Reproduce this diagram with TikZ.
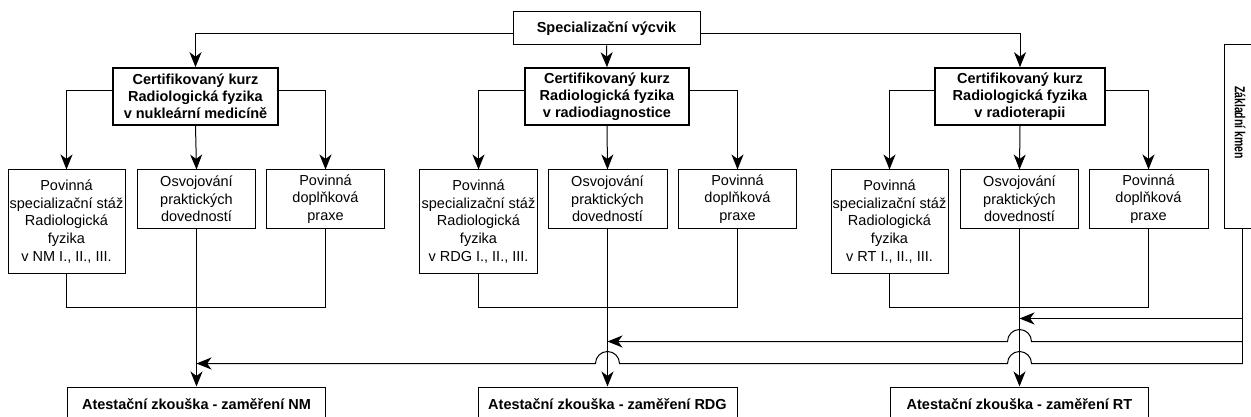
\documentclass[tikz,border=0pt]{standalone}
\usepackage{fontspec}
\setmainfont{Liberation Sans}
\usetikzlibrary{arrows.meta}
\tikzset{
  box/.style={draw, line width=1pt, inner sep=0pt, align=center, font=\fontsize{14.5}{17.6}\selectfont},
  bbox/.style={box, font=\fontsize{14.5}{16.8}\selectfont\bfseries},
  cbox/.style={bbox, line width=1.6pt},
  conn/.style={line width=1pt},
  arr/.style={conn, -{Stealth[length=15pt, width=12pt, inset=4.5pt]}},
}
\begin{document}
\begin{tikzpicture}[x=1pt, y=-1pt]
\clip (0,0) rectangle (1251,417);
\fill[white] (0,0) rectangle (1251,417);
% top
\node[bbox, minimum width=187pt, minimum height=33pt] (top) at (606.5,28.5) {Specializační výcvik};
% certified courses
\node[cbox, minimum width=165pt, minimum height=57pt] (k1) at (195.5,96.5) {Certifikovaný kurz\\Radiologická fyzika\\v nukleární medicíně};
\node[cbox, minimum width=164pt, minimum height=57pt] (k2) at (607,96.5) {Certifikovaný kurz\\Radiologická fyzika\\v radiodiagnostice};
\node[cbox, minimum width=170pt, minimum height=57pt] (k3) at (1020,96.5) {Certifikovaný kurz\\Radiologická fyzika\\v radioterapii};
% group 1
\node[box, minimum width=117pt, minimum height=103pt] (a1) at (66.5,221.5) {Povinná\\specializační stáž\\Radiologická\\fyzika\\v NM I., II., III.};
\node[box, minimum width=118pt, minimum height=58pt] (b1) at (196.5,199) {Osvojování\\praktických\\dovedností};
\node[box, minimum width=118pt, minimum height=58pt] (c1) at (325.5,199) {Povinná\\doplňková\\praxe};
% group 2
\node[box, minimum width=118pt, minimum height=103pt] (a2) at (478.5,221.5) {Povinná\\specializační stáž\\Radiologická\\fyzika\\v RDG I., II., III.};
\node[box, minimum width=119pt, minimum height=58pt] (b2) at (607.5,199) {Osvojování\\praktických\\dovedností};
\node[box, minimum width=118pt, minimum height=58pt] (c2) at (737.5,199) {Povinná\\doplňková\\praxe};
% group 3
\node[box, minimum width=117pt, minimum height=103pt] (a3) at (889.5,221.5) {Povinná\\specializační stáž\\Radiologická\\fyzika\\v RT I., II., III.};
\node[box, minimum width=118pt, minimum height=58pt] (b3) at (1019.5,199) {Osvojování\\praktických\\dovedností};
\node[box, minimum width=119pt, minimum height=58pt] (c3) at (1148.5,199) {Povinná\\doplňková\\praxe};
% exams
\node[bbox, minimum width=258pt, minimum height=34pt] (e1) at (196.5,404) {Atestační zkouška - zaměření NM};
\node[bbox, minimum width=259pt, minimum height=34pt] (e2) at (607.5,404) {Atestační zkouška - zaměření RDG};
\node[bbox, minimum width=258pt, minimum height=34pt] (e3) at (1019.5,404) {Atestační zkouška - zaměření RT};
% zakladni kmen
\node[box, minimum width=36pt, minimum height=183pt] (zk) at (1242.5,136.5) {};
\node[font=\fontsize{14.5}{16.8}\selectfont\bfseries, rotate=-90, inner sep=0pt] (zkt) at (1240,122.5) {\scalebox{0.72}[1]{Základní kmen}};
% connectors from top
\draw[arr] ([yshift=-5.5pt]top.west) -| (k1.north);
\draw[arr] (top.south) -- (k2.north);
\draw[arr] ([yshift=-5.5pt]top.east) -| (k3.north);
% course -> children
\foreach \k/\a/\b/\c in {k1/a1/b1/c1, k2/a2/b2/c2, k3/a3/b3/c3}{
  \draw[arr] ([yshift=5.5pt]\k.west) -| (\a.north);
  \draw[arr] (\k.south) -- (\b.north);
  \draw[arr] ([yshift=5.5pt]\k.east) -| (\c.north);
}
% joins
\coordinate (j1) at (196.5,307.5);
\coordinate (j2) at (607.5,307.5);
\coordinate (j3) at (1019.5,307.5);
\draw[conn] (a1.south) |- (j1) -| (c1.south);
\draw[conn] (a2.south) |- (j2) -| (c2.south);
\draw[conn] (a3.south) |- (j3) -| (c3.south);
\draw[arr] (b1.south) -- (e1.north);
\draw[arr] (b2.south) -- (e2.north);
\draw[arr] (b3.south) -- (e3.north);
% feeds from Zakladni kmen
\coordinate (f1) at (1242.5,318.5);
\coordinate (f2) at (1242.5,341.5);
\coordinate (f3) at (1242.5,363.5);
\draw[conn] (zk.south) -- (f3);
\draw[arr] (f1) -- (b3.south |- f1);
\draw[arr] (f2) -- ([xshift=12pt]b3.south |- f2) arc[start angle=0, end angle=180, radius=12pt] -- (b2.south |- f2);
\draw[arr] (f3) -- ([xshift=12pt]b3.south |- f3) arc[start angle=0, end angle=180, radius=12pt]
  -- ([xshift=12pt]b2.south |- f3) arc[start angle=0, end angle=180, radius=12pt] -- (b1.south |- f3);
\end{tikzpicture}
\end{document}
